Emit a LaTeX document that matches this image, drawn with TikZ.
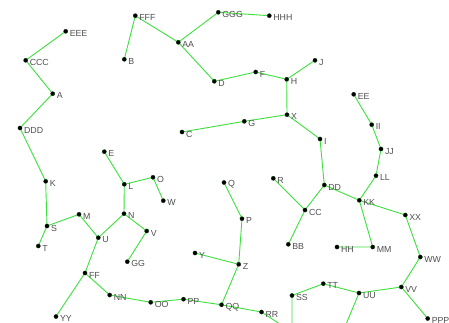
\documentclass[tikz,border=0pt]{standalone}
\usepackage{fontspec}
\setmainfont{Liberation Sans}
\usetikzlibrary{backgrounds}
\definecolor{edgegreen}{RGB}{60,225,60}
\definecolor{lblgray}{RGB}{80,80,80}
\tikzset{
  dot/.style={circle,fill=black,draw=black!80!green,line width=0.3pt,minimum size=4.2pt,inner sep=0pt},
  lbl/.style={text=lblgray,font=\fontsize{8.8}{9}\selectfont,inner sep=0pt,yshift=-2.2pt},
  v/.style={dot,label={[lbl]right:#1}},
  edge/.style={draw=edgegreen,line width=0.9pt},
  label distance=1.6pt
}
\begin{document}
\begin{tikzpicture}[x=1pt,y=-1pt]
\clip (0,0) rectangle (449,322);
\node[v=EEE] (EEE) at (65.7,31.3) {};
\node[v=CCC] (CCC) at (25.7,60.3) {};
\node[v=A] (A) at (52.7,93.7) {};
\node[v=DDD] (DDD) at (20,128) {};
\node[v=FFF] (FFF) at (135.3,15.7) {};
\node[v=B] (B) at (124.3,59.3) {};
\node[v=AA] (AA) at (178.3,42.3) {};
\node[v=GGG] (GGG) at (218.3,12.3) {};
\node[v=HHH] (HHH) at (269.3,15.7) {};
\node[v=D] (D) at (214.3,81.3) {};
\node[v=F] (F) at (255.7,72) {};
\node[v=H] (H) at (286.7,79.3) {};
\node[v=J] (J) at (315,60.3) {};
\node[v=X] (X) at (287,114.7) {};
\node[v=G] (G) at (244.3,121.3) {};
\node[v=C] (C) at (182,132) {};
\node[v=I] (I) at (320,139) {};
\node[v=EE] (EE) at (353.7,94.3) {};
\node[v=II] (II) at (371.7,124.7) {};
\node[v=JJ] (JJ) at (381,149) {};
\node[v=E] (E) at (104.3,151.7) {};
\node[v=K] (K) at (45.7,181.3) {};
\node[v=L] (L) at (124.3,184.3) {};
\node[v=O] (O) at (153,177.3) {};
\node[v=W] (W) at (163.3,200.7) {};
\node[v=M] (M) at (79,214.3) {};
\node[v=N] (N) at (124,213.7) {};
\node[v=S] (S) at (47,226) {};
\node[v=T] (T) at (38.3,246) {};
\node[v=U] (U) at (98.3,237.7) {};
\node[v=V] (V) at (146.7,231) {};
\node[v=GG] (GG) at (127.3,261.7) {};
\node[v=FF] (FF) at (85,273) {};
\node[v=NN] (NN) at (109.7,295) {};
\node[v=OO] (OO) at (150.7,302.3) {};
\node[v=PP] (PP) at (183.5,299.2) {};
\node[v=YY] (YY) at (56,316.5) {};
\node[v=Y] (Y) at (195,253) {};
\node[v=QQ] (QQ) at (221.5,304.8) {};
\node[v=Q] (Q) at (224,182.5) {};
\node[v=P] (P) at (242,218.7) {};
\node[v=Z] (Z) at (238.7,264.3) {};
\node[v=RR] (RR) at (261.5,312) {};
\node[v=R] (R) at (273.3,178.3) {};
\node[v=DD] (DD) at (324.3,185) {};
\node[v=LL] (LL) at (376,175.7) {};
\node[v=KK] (KK) at (359.3,200.3) {};
\node[v=CC] (CC) at (305,210) {};
\node[v=XX] (XX) at (405.3,215) {};
\node[v=BB] (BB) at (288.3,244.3) {};
\node[v=HH] (HH) at (337,247) {};
\node[v=MM] (MM) at (372.7,247) {};
\node[v=WW] (WW) at (420.3,257) {};
\node[v=TT] (TT) at (323.3,283.7) {};
\node[v=VV] (VV) at (401.3,287) {};
\node[v=UU] (UU) at (359,293) {};
\node[v=SS] (SS) at (292,295.5) {};
\node[v=PPP] (PPP) at (427.7,318.5) {};
\coordinate (RRout) at (292,332);
\coordinate (SSout) at (292,336);
\coordinate (UUout) at (342,334);
\begin{scope}[on background layer]
\fill[white] (0,0) rectangle (449,322);
\path[edge] (EEE)--(CCC) (CCC)--(A) (A)--(DDD) (DDD)--(K) (K)--(S) (S)--(T) (S)--(M) (M)--(U)
  (U)--(N) (N)--(L) (L)--(E) (L)--(O) (O)--(W) (N)--(V) (V)--(GG) (U)--(FF) (FF)--(YY)
  (FF)--(NN) (NN)--(OO) (OO)--(PP) (PP)--(QQ) (QQ)--(Z) (Z)--(Y) (Z)--(P) (P)--(Q)
  (QQ)--(RR) (RR)--(RRout)
  (FFF)--(B) (FFF)--(AA) (AA)--(GGG) (GGG)--(HHH) (AA)--(D) (D)--(F) (F)--(H) (H)--(J)
  (H)--(X) (X)--(G) (G)--(C) (X)--(I) (I)--(DD) (DD)--(CC) (CC)--(R) (CC)--(BB)
  (DD)--(KK) (KK)--(LL) (LL)--(JJ) (JJ)--(II) (II)--(EE) (KK)--(MM) (MM)--(HH)
  (KK)--(XX) (XX)--(WW) (WW)--(VV) (VV)--(UU) (VV)--(PPP) (UU)--(TT) (TT)--(SS)
  (SS)--(SSout) (UU)--(UUout);
\end{scope}
\end{tikzpicture}
\end{document}
